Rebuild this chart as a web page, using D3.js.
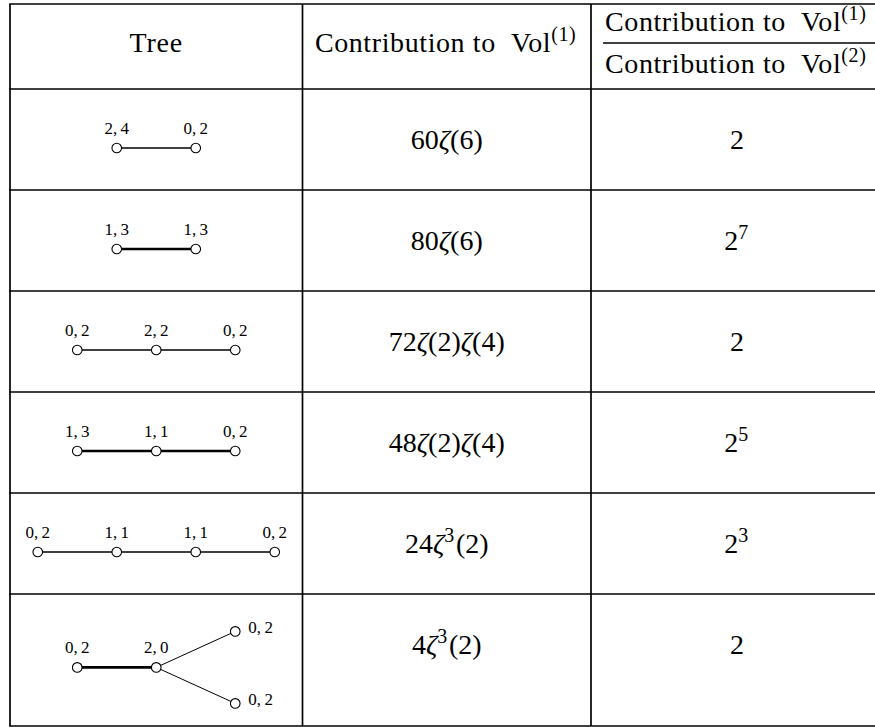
<!DOCTYPE html>
<html>
<head>
<meta charset="utf-8">
<script src="https://cdn.jsdelivr.net/npm/d3@7"></script>
<style>
  body { margin: 0; background: #fff; }
  svg { display: block; }
  text { font-family: "Liberation Serif", "Times New Roman", serif; fill: #000; }
</style>
</head>
<body>
<svg width="875" height="727"></svg>
<script>
// table content
var headers = ['Tree', 'Contribution to\u00a0\u00a0Vol', 'Contribution to\u00a0\u00a0Vol'];

// tree of each row: node labels, edges [from, to, edge class]
var treeLabels = [
  ['2,4', '0,2'],
  ['1,3', '1,3'],
  ['0,2', '2,2', '0,2'],
  ['1,3', '1,1', '0,2'],
  ['0,2', '1,1', '1,1', '0,2'],
  ['0,2', '2,0', '0,2', '0,2']
];
var treeEdges = [
  [[0, 1, 1]],
  [[0, 1, 2]],
  [[0, 1, 1], [1, 2, 1]],
  [[0, 1, 2], [1, 2, 2]],
  [[0, 1, 1], [1, 2, 1], [2, 3, 1]],
  [[0, 1, 2], [1, 2, 0], [1, 3, 0]]
];

// contribution to Vol(1): coefficient and zeta factors [argument, power]
var volCoef = [60, 80, 72, 48, 24, 4];
var zetaFactors = [
  [[6, 1]],
  [[6, 1]],
  [[2, 1], [4, 1]],
  [[2, 1], [4, 1]],
  [[2, 3]],
  [[2, 3]]
];
// ratio Vol(1)/Vol(2) = 2^k
var ratioExp = [1, 7, 1, 5, 3, 1];

var svg = d3.select('svg');

var colX = [10, 302.5, 591, 883];
var headerTop = 4, headerBottom = 89;
var spacing = 79;
var fs = 28, fsSup = 20;
var spread = d3.scaleLinear().domain([-1, 1]).range([-36, 36]);
var edgeWidth = d3.scaleOrdinal().domain([0, 1, 2]).range([1, 1.6, 2.7]);

// lay a tree out: x by depth from node 0, y spread among siblings
function layout(labels, edges) {
  var nodes = labels.map(function(l, i) { return { id: i, label: l, depth: 0, off: 0 }; });
  var queue = [0], seen = { 0: true };
  while (queue.length) {
    var p = queue.shift();
    var kids = edges.filter(function(e) { return e[0] === p && !seen[e[1]]; }).map(function(e) { return e[1]; });
    kids.forEach(function(k, j) {
      seen[k] = true;
      nodes[k].depth = nodes[p].depth + 1;
      nodes[k].off = kids.length > 1 ? (j / (kids.length - 1)) * 2 - 1 : nodes[p].off;
      queue.push(k);
    });
  }
  return nodes;
}

var layouts = treeLabels.map(function(l, i) { return layout(l, treeEdges[i]); });
var rowHeights = layouts.map(function(nodes) {
  var span = d3.max(nodes, function(n) { return spread(n.off); }) - d3.min(nodes, function(n) { return spread(n.off); });
  return Math.max(101, span + 60);
});
var rowTops = [headerBottom].concat(Array.from(d3.cumsum(rowHeights), function(h) { return headerBottom + h; }));

// grid lines
var g = svg.append('g').attr('stroke', '#000').attr('stroke-width', 1.7);
rowTops.concat([headerTop]).forEach(function(y) {
  g.append('line').attr('x1', colX[0] - 0.8).attr('x2', colX[3]).attr('y1', y).attr('y2', y);
});
colX.forEach(function(x) {
  g.append('line').attr('x1', x).attr('x2', x).attr('y1', headerTop).attr('y2', rowTops[rowTops.length - 1]);
});

function colCenter(c) { return (colX[c] + colX[c + 1]) / 2; }

// write a superscript into a text element
function sup(t, s) {
  t.append('tspan').attr('font-size', fsSup).attr('dy', -11).text(s);
  t.append('tspan').attr('font-size', fsSup).attr('dy', 11).text('\u200a');
}

// header
svg.append('text').attr('x', colCenter(0)).attr('y', 52).attr('text-anchor', 'middle')
  .attr('font-size', fs).attr('letter-spacing', 0.8).text(headers[0]);
var h2 = svg.append('text').attr('x', colCenter(1)).attr('y', 52).attr('text-anchor', 'middle')
  .attr('font-size', fs).attr('letter-spacing', 0.6);
h2.append('tspan').text(headers[1]);
sup(h2, '(1)');
var num = svg.append('text').attr('x', 605).attr('y', 31).attr('font-size', fs).attr('letter-spacing', 0.6);
num.append('tspan').text(headers[2]);
sup(num, '(1)');
var den = svg.append('text').attr('x', 605).attr('y', 73).attr('font-size', fs).attr('letter-spacing', 0.6);
den.append('tspan').text(headers[2]);
sup(den, '(2)');
svg.append('line').attr('x1', 603).attr('x2', 883).attr('y1', 43).attr('y2', 43)
  .attr('stroke', '#000').attr('stroke-width', 1.5);

// body rows
layouts.forEach(function(nodes, r) {
  var top = rowTops[r];
  var base = top + 60;
  var maxDepth = d3.max(nodes, function(n) { return n.depth; });
  var cx = colCenter(0);
  var x = d3.scaleLinear().domain([0, maxDepth]).range([cx - maxDepth * spacing / 2, cx + maxDepth * spacing / 2]);
  var yMain = base - 1 + (d3.max(nodes, function(n) { return spread(n.off); }) * 0.4);
  nodes.forEach(function(n) { n.x = x(n.depth); n.y = yMain + spread(n.off); });

  var tg = svg.append('g');
  tg.selectAll('line').data(treeEdges[r]).enter().append('line')
    .attr('x1', function(e) { return nodes[e[0]].x; })
    .attr('y1', function(e) { return nodes[e[0]].y; })
    .attr('x2', function(e) { return nodes[e[1]].x; })
    .attr('y2', function(e) { return nodes[e[1]].y; })
    .attr('stroke', '#000')
    .attr('stroke-width', function(e) { return edgeWidth(e[2]); });
  tg.selectAll('circle').data(nodes).enter().append('circle')
    .attr('cx', function(n) { return n.x; }).attr('cy', function(n) { return n.y; })
    .attr('r', 4.8).attr('fill', '#fff').attr('stroke', '#000').attr('stroke-width', 1.1);
  tg.selectAll('text').data(nodes).enter().append('text')
    .attr('font-size', 17)
    .attr('x', function(n) { return n.off ? n.x + 13 : n.x; })
    .attr('y', function(n) { return n.off ? n.y + 2 : n.y - 14; })
    .attr('text-anchor', function(n) { return n.off ? 'start' : 'middle'; })
    .text(function(n) { return n.label.replace(',', ',\u2009'); });

  // contribution
  var t = svg.append('text').attr('x', colCenter(1)).attr('y', base).attr('text-anchor', 'middle').attr('font-size', fs);
  t.append('tspan').text(volCoef[r]);
  zetaFactors[r].forEach(function(f) {
    t.append('tspan').attr('font-style', 'italic').text('\u03b6');
    if (f[1] > 1) sup(t, f[1]);
    t.append('tspan').text('(' + f[0] + ')');
  });

  // ratio
  var q = svg.append('text').attr('x', colCenter(2)).attr('y', base).attr('text-anchor', 'middle').attr('font-size', fs);
  q.append('tspan').text('2');
  if (ratioExp[r] > 1) sup(q, ratioExp[r]);
});
</script>
</body>
</html>
